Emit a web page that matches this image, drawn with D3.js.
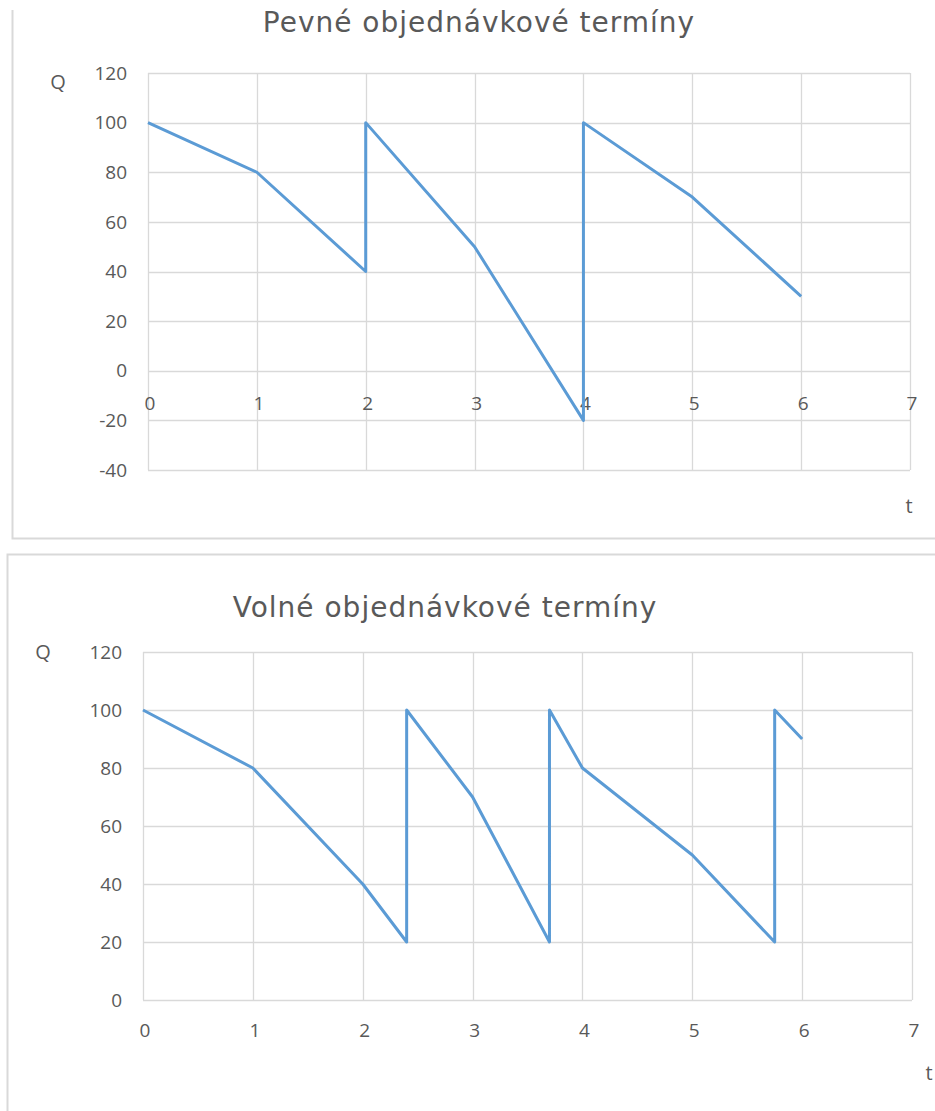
<!DOCTYPE html>
<html>
<head>
<meta charset="utf-8">
<script src="https://cdn.jsdelivr.net/npm/d3@7"></script>
<style>
  body { margin: 0; background: #fff; }
  svg text { font-family: "Open Sans", "Noto Sans", sans-serif; fill: #595959; }
  svg text.title { font-family: "DejaVu Sans", sans-serif; letter-spacing: 1px; }
</style>
</head>
<body>
<div id="chart"></div>
<script>
// pevné termíny (fixed order dates)
var fixedT = [0, 1, 2, 2, 3, 4, 4, 5, 6];
var fixedQ = [100, 80, 40, 100, 50, -20, 100, 70, 30];
// volné termíny (free order dates)
var freeT = [0, 1, 2, 2.4, 2.4, 3, 3.7, 3.7, 4, 5, 5.75, 5.75, 6];
var freeQ = [100, 80, 40, 20, 100, 70, 20, 100, 80, 50, 20, 100, 90];
var xTicks = [0, 1, 2, 3, 4, 5, 6, 7];
var yTicksFixed = [-40, -20, 0, 20, 40, 60, 80, 100, 120];
var yTicksFree = [0, 20, 40, 60, 80, 100, 120];

var W = 935, H = 1111;
var svg = d3.select("#chart").append("svg")
  .attr("width", W).attr("height", H);

// chart frames
svg.append("path")
  .attr("d", "M12.5,10 V538.5 H935")
  .attr("fill", "none").attr("stroke", "#d9d9d9").attr("stroke-width", 2);
svg.append("path")
  .attr("d", "M7.5,1111 V554.5 H935")
  .attr("fill", "none").attr("stroke", "#d9d9d9").attr("stroke-width", 2);

function drawChart(cfg){
  var g = svg.append("g");
  var x = d3.scaleLinear().domain([0, 7]).range([cfg.x0, cfg.x1]);
  var y = d3.scaleLinear().domain(d3.extent(cfg.yTicks)).range([cfg.y1, cfg.y0]);

  // gridlines
  g.selectAll(".hg").data(cfg.yTicks).enter().append("line")
    .attr("x1", cfg.x0).attr("x2", cfg.x1)
    .attr("y1", function(d){ return Math.round(y(d)) + 0.5; })
    .attr("y2", function(d){ return Math.round(y(d)) + 0.5; })
    .attr("stroke", "#d9d9d9").attr("stroke-width", 1.3);
  g.selectAll(".vg").data(xTicks).enter().append("line")
    .attr("x1", function(d){ return Math.round(x(d)) + 0.5; })
    .attr("x2", function(d){ return Math.round(x(d)) + 0.5; })
    .attr("y1", cfg.y0).attr("y2", cfg.y1)
    .attr("stroke", "#d9d9d9").attr("stroke-width", 1.3);

  // y labels
  g.selectAll(".yl").data(cfg.yTicks).enter().append("text")
    .attr("x", cfg.x0 - 21)
    .attr("y", function(d){ return y(d); })
    .attr("dy", "0.35em")
    .attr("text-anchor", "end")
    .style("font-size", "19px")
    .text(function(d){ return d; });

  // x labels, at the zero line
  g.selectAll(".xl").data(xTicks).enter().append("text")
    .attr("x", function(d){ return x(d) + 2; })
    .attr("y", y(0) + cfg.xLabelOff)
    .attr("dy", "0.35em")
    .attr("text-anchor", "middle")
    .style("font-size", "19px")
    .text(function(d){ return d; });

  // series
  var pts = cfg.t.map(function(t, i){ return [t, cfg.q[i]]; });
  g.append("path")
    .datum(pts)
    .attr("fill", "none")
    .attr("stroke", "#5b9bd5")
    .attr("stroke-width", 3)
    .attr("stroke-linejoin", "round")
    .attr("d", d3.line().x(function(d){ return x(d[0]); }).y(function(d){ return y(d[1]); }));

  g.append("text").attr("class", "title").attr("x", cfg.titleX).attr("y", cfg.titleY)
    .attr("text-anchor", "middle").style("font-size", "28px")
    .text(cfg.title);
  g.append("text").attr("x", cfg.qX).attr("y", cfg.qY).attr("dy", "0.35em")
    .attr("text-anchor", "middle").style("font-size", "20px").text("Q");
  g.append("text").attr("x", cfg.tX).attr("y", cfg.tY).attr("dy", "0.35em")
    .attr("text-anchor", "middle").style("font-size", "20px").text("t");
}

drawChart({
  t: fixedT, q: fixedQ, yTicks: yTicksFixed,
  x0: 148, x1: 910, y0: 73, y1: 470, xLabelOff: 33,
  title: "Pevné objednávkové termíny", titleX: 479, titleY: 32,
  qX: 58, qY: 82, tX: 909, tY: 506
});

drawChart({
  t: freeT, q: freeQ, yTicks: yTicksFree,
  x0: 143, x1: 912, y0: 652, y1: 1000, xLabelOff: 30,
  title: "Volné objednávkové termíny", titleX: 445, titleY: 617,
  qX: 43, qY: 652, tX: 929, tY: 1073
});
</script>
</body>
</html>
